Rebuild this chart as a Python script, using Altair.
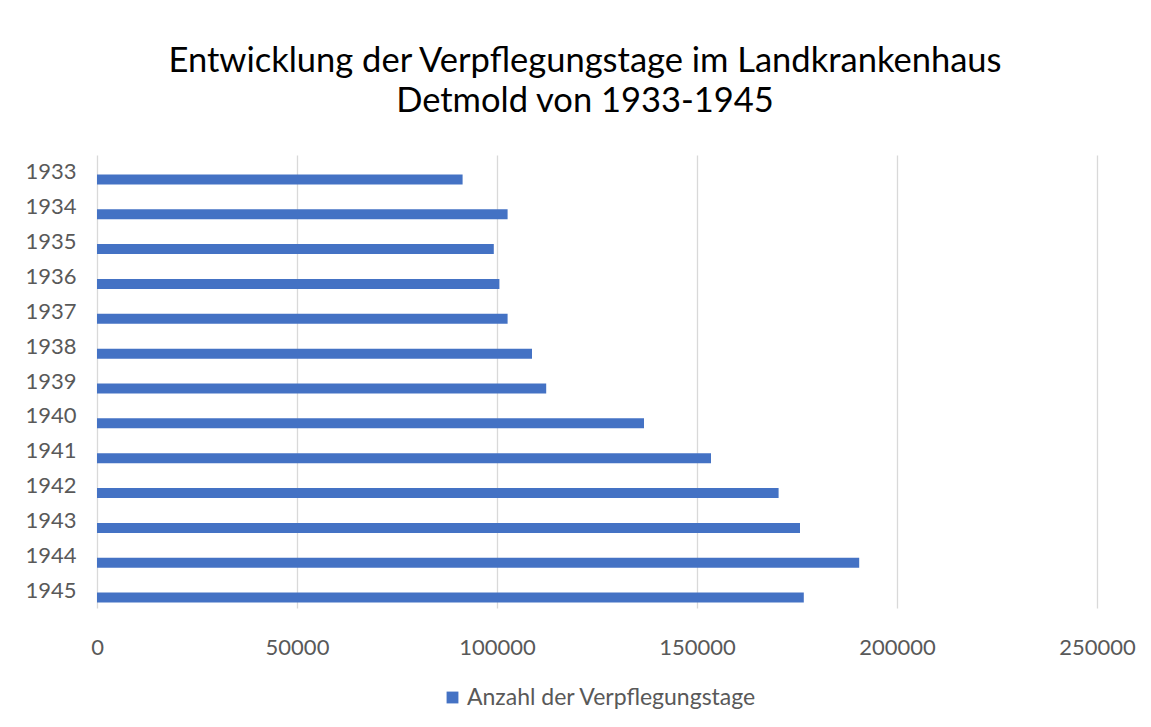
import altair as alt
import pandas as pd

years = ["1933", "1934", "1935", "1936", "1937", "1938", "1939",
         "1940", "1941", "1942", "1943", "1944", "1945"]
values = [91400, 102650, 99200, 100600, 102650, 108750, 112300,
          136750, 153500, 170400, 175750, 190550, 176700]
series = ["Anzahl der Verpflegungstage"] * len(years)

df = pd.DataFrame({"Jahr": years, "Tage": values, "Serie": series})

FONT = "Lato"
GREY = "#595959"

chart = alt.Chart(df).mark_bar(height=10, yOffset=7).encode(
    x=alt.X("Tage:Q",
            scale=alt.Scale(domain=[0, 250000], nice=False, zero=True),
            axis=alt.Axis(values=[0, 50000, 100000, 150000, 200000, 250000],
                          format="d", title=None, domain=False, ticks=False,
                          grid=True, gridColor="#d9d9d9", gridWidth=1.3,
                          labelFlush=False, labelOverlap=False,
                          labelPadding=29, labelFontSize=22, labelColor=GREY,
                          labelFont=FONT)),
    y=alt.Y("Jahr:N", sort=None,
            axis=alt.Axis(title=None, domain=False, ticks=False, grid=False,
                          labelPadding=21, labelFontSize=22, labelColor=GREY,
                          labelFont=FONT)),
    color=alt.Color("Serie:N",
                    scale=alt.Scale(range=["#4472C4"]),
                    legend=alt.Legend(title=None, orient="none",
                                      legendX=344, legendY=531,
                                      symbolType="square", symbolSize=140,
                                      symbolStrokeWidth=0, labelOffset=3,
                                      labelFontSize=23, labelColor=GREY,
                                      labelFont=FONT, labelLimit=400)),
).properties(
    width=1000,
    height=453,
    title=alt.TitleParams(
        text=["Entwicklung der Verpflegungstage im Landkrankenhaus",
              "Detmold von 1933-1945"],
        fontSize=34.5, font=FONT, fontWeight="normal", color="#000000",
        anchor="middle", lineHeight=40, offset=36, dx=-12),
    padding={"left": 89, "top": 147, "right": 46, "bottom": 111},
    autosize=alt.AutoSizeParams(type="none"),
).configure_view(stroke=None)

chart.save("out.html", embed_options={"renderer": "svg", "actions": False})
